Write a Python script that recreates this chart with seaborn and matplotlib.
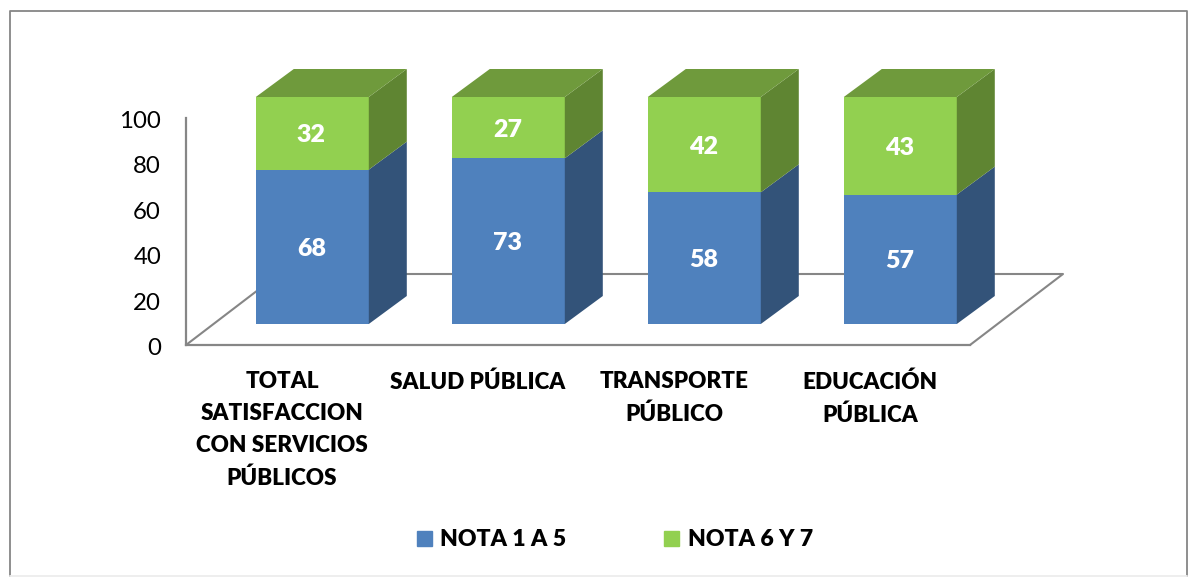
import matplotlib
matplotlib.use('Agg')
import matplotlib.pyplot as plt
from matplotlib.lines import Line2D
from matplotlib.patches import Polygon, Patch
from matplotlib.transforms import ScaledTranslation
import numpy as np
import seaborn as sns

# Data
categories = ['TOTAL\nSATISFACCION\nCON SERVICIOS\nPÚBLICOS', 'SALUD PÚBLICA',
              'TRANSPORTE\nPÚBLICO', 'EDUCACIÓN\nPÚBLICA']
nota_1_5 = np.array([68, 73, 58, 57])
nota_6_7 = np.array([32, 27, 42, 43])
y_ticks = [0, 20, 40, 60, 80, 100]

W, H = 1192, 577
BLUE, GREEN = '#4F81BD', '#92D050'
BLUE_SIDE, GREEN_SIDE, GREEN_TOP = '#335379', '#5F8532', '#6F9A3C'
GRAY = '#868686'

sns.set_theme(style='white')
plt.rcParams['font.family'] = ['Lato', 'DejaVu Sans']


def px_axes(fig, left, top, right, bottom, **kw):
    # axes placed by pixel box, y counted from the top of the picture
    return fig.add_axes([left / W, 1 - bottom / H, (right - left) / W, (bottom - top) / H], **kw)


def shift(artist, dx, dy):
    # nudge a text by pixels
    artist.set_transform(artist.get_transform() + ScaledTranslation(dx / 100, -dy / 100, artist.figure.dpi_scale_trans))


fig = plt.figure(figsize=(W / 100, H / 100), dpi=100)

# Outer frame, the bottom edge is nearly invisible in the original
def frame_line(xs, ys, color):
    fig.add_artist(Line2D(np.array(xs) / W, 1 - np.array(ys) / H, color=color, lw=1.3))


frame_line([9.5, 9.5, 1187, 1187], [576, 11, 11, 576], GRAY)
frame_line([9.5, 1187], [576, 576], '#EDEDED')

# Back axes: value scale, category labels and the floor
ax_back = px_axes(fig, 186, 118, 970, 345)
sns.barplot(x=categories, y=np.zeros(4), ax=ax_back)
ax_back.set_xlim(-0.5, 3.5)
ax_back.set_ylim(0, 100)
ax_back.set_yticks(y_ticks)
ax_back.tick_params(axis='y', length=0, pad=18, labelsize=17.3, labelcolor='black')
ax_back.tick_params(axis='x', length=0, pad=19, labelsize=16.2, labelcolor='black')
for lbl in ax_back.get_xticklabels():
    lbl.set_fontweight('heavy')
    lbl.set_linespacing(1.64)
    shift(lbl, -2, 0)
for lbl in ax_back.get_yticklabels():
    shift(lbl, 0, 1.5)
sns.despine(ax=ax_back)
for side in ['left', 'bottom']:
    ax_back.spines[side].set_color(GRAY)
    ax_back.spines[side].set_linewidth(1.6)
floor_dx, floor_dy = 93 / 196, 71 / 227 * 100
ax_back.plot([-0.5, -0.5 + floor_dx, 3.5 + floor_dx, 3.5],
             [0, floor_dy, floor_dy, 0], color=GRAY, lw=1.5, clip_on=False)

# Front axes: the bars, shifted into the depth of the floor
ax = px_axes(fig, 214.3, 97, 998.3, 324)
ax.patch.set_alpha(0)
sns.barplot(x=categories, y=nota_1_5, color=BLUE, saturation=1, width=0.5765, linewidth=0, ax=ax)
sns.barplot(x=categories, y=nota_6_7, bottom=nota_1_5, color=GREEN, saturation=1, width=0.5765, linewidth=0, ax=ax)
ax.set_xlim(-0.5, 3.5)
ax.set_ylim(0, 100)
ax.axis('off')

# Side and top faces built from the bars that seaborn drew
depth_x, depth_y = 38 / 196, 28 / 227 * 100
for container, side_color in zip(ax.containers, [BLUE_SIDE, GREEN_SIDE]):
    for bar in container:
        x0, w = bar.get_x(), bar.get_width()
        y0, y1 = bar.get_y(), bar.get_y() + bar.get_height()
        x1 = x0 + w
        ax.add_patch(Polygon([(x1, y0), (x1 + depth_x, y0 + depth_y), (x1 + depth_x, y1 + depth_y), (x1, y1)],
                             facecolor=side_color, edgecolor='none', clip_on=False))
        if side_color == GREEN_SIDE:
            ax.add_patch(Polygon([(x0, y1), (x0 + depth_x, y1 + depth_y), (x1 + depth_x, y1 + depth_y), (x1, y1)],
                                 facecolor=GREEN_TOP, edgecolor='none', clip_on=False))
    for ann in ax.bar_label(container, label_type='center', color='white', fontsize=18, fontweight='heavy'):
        ann.set_position((-0.7, -1.5))

handles = [Patch(color=BLUE, label='NOTA 1 A 5'), Patch(color=GREEN, label='NOTA 6 Y 7')]
fig.legend(handles=handles, ncol=2, loc='center', bbox_to_anchor=(615 / W, 1 - 540 / H), frameon=False,
           prop={'size': 16.6, 'weight': 'heavy'}, handlelength=0.65, handleheight=0.65,
           handletextpad=0.35, columnspacing=4.25, labelcolor='black')

fig.savefig('out.png', dpi=100)
